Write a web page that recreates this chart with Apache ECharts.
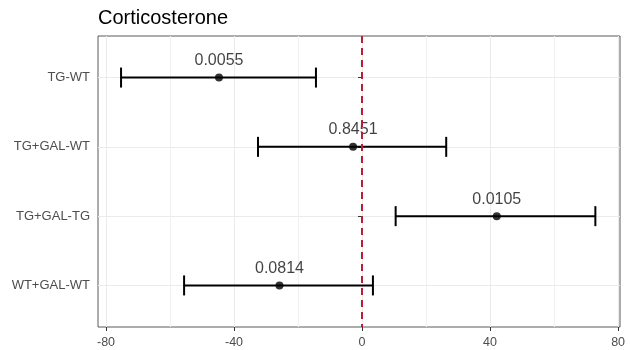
<!DOCTYPE html>
<html>
<head>
<meta charset="utf-8">
<script src="https://cdn.jsdelivr.net/npm/echarts@6/dist/echarts.min.js"></script>
<style>
  html, body { margin: 0; padding: 0; background: #fff; }
  #chart { width: 630px; height: 350px; }
</style>
</head>
<body>
<div id="chart"></div>
<script>
// data
const categories = ["TG-WT", "TG+GAL-WT", "TG+GAL-TG", "WT+GAL-WT"];
const estimates = [-44.7, -2.8, 42.1, -25.8];
const lowers = [-75.3, -32.5, 10.5, -55.6];
const uppers = [-14.4, 26.3, 72.9, 3.4];
const pValues = ["0.0055", "0.8451", "0.0105", "0.0814"];
const xTicks = [-80, -40, 0, 40, 80];
const xMinorTicks = [-60, -20, 20, 60];

const rowPos = categories.map((c, i) => i + 1);

let chart = echarts.init(document.getElementById("chart"));

// horizontal error bar with end caps
let renderBar = (params, api) => {
  let y = api.value(2);
  let a = api.coord([api.value(0), y]);
  let b = api.coord([api.value(1), y]);
  let cap = 10;
  let st = { stroke: "#000", lineWidth: 2 };
  return {
    type: "group",
    children: [
      { type: "line", shape: { x1: a[0], y1: a[1], x2: b[0], y2: b[1] }, style: st },
      { type: "line", shape: { x1: a[0], y1: a[1] - cap, x2: a[0], y2: a[1] + cap }, style: st },
      { type: "line", shape: { x1: b[0], y1: b[1] - cap, x2: b[0], y2: b[1] + cap }, style: st }
    ]
  };
};

chart.setOption({
  animation: false,
  title: {
    text: "Corticosterone",
    left: 93, top: 3,
    textStyle: { fontFamily: "Liberation Sans", fontSize: 20, fontWeight: "normal", color: "#000" }
  },
  grid: {
    left: 98, right: 10, top: 36, bottom: 23,
    show: true, borderColor: "#5a5a5a", borderWidth: 1, backgroundColor: "#fff"
  },
  xAxis: {
    type: "value", min: -82.5, max: 80.6,
    axisLine: { show: false },
    axisTick: { show: true, length: 4, customValues: xTicks, lineStyle: { color: "#333" } },
    axisLabel: {
      customValues: xTicks, margin: 9,
      fontFamily: "Liberation Sans", fontSize: 12.5, color: "#4d4d4d"
    },
    splitLine: { show: true, lineStyle: { color: "#ebebeb", width: 1 } }
  },
  yAxis: {
    type: "value", min: 0.4, max: 4.6, inverse: true,
    axisLine: { show: false },
    axisTick: { show: true, length: 4, customValues: rowPos, lineStyle: { color: "#333" } },
    axisLabel: {
      customValues: rowPos, margin: 8,
      formatter: v => categories[Math.round(v) - 1] || "",
      fontFamily: "Liberation Sans", fontSize: 13, color: "#4d4d4d"
    },
    splitLine: { show: true, lineStyle: { color: "#ebebeb", width: 1 } }
  },
  series: [
    {
      type: "custom", z: 3,
      renderItem: renderBar,
      data: categories.map((c, i) => [lowers[i], uppers[i], rowPos[i]]),
      // zero reference line
      markLine: {
        silent: true, symbol: "none", label: { show: false }, z: 5,
        lineStyle: { color: "#b81f36", width: 2, type: [7, 5] },
        data: [{ xAxis: 0 }]
      }
    },
    {
      type: "scatter", z: 4,
      symbol: "circle", symbolSize: 8,
      itemStyle: { color: "#000" },
      label: {
        show: true, position: "top", distance: 5,
        formatter: p => pValues[p.dataIndex],
        fontFamily: "Liberation Sans", fontSize: 16, color: "#111"
      },
      data: categories.map((c, i) => [estimates[i], rowPos[i]]),
      // minor grid lines
      markLine: {
        silent: true, symbol: "none", label: { show: false }, z: 1,
        lineStyle: { color: "#f0f0f0", width: 1, type: "solid" },
        data: xMinorTicks.map(v => ({ xAxis: v }))
      }
    }
  ]
});
</script>
</body>
</html>
